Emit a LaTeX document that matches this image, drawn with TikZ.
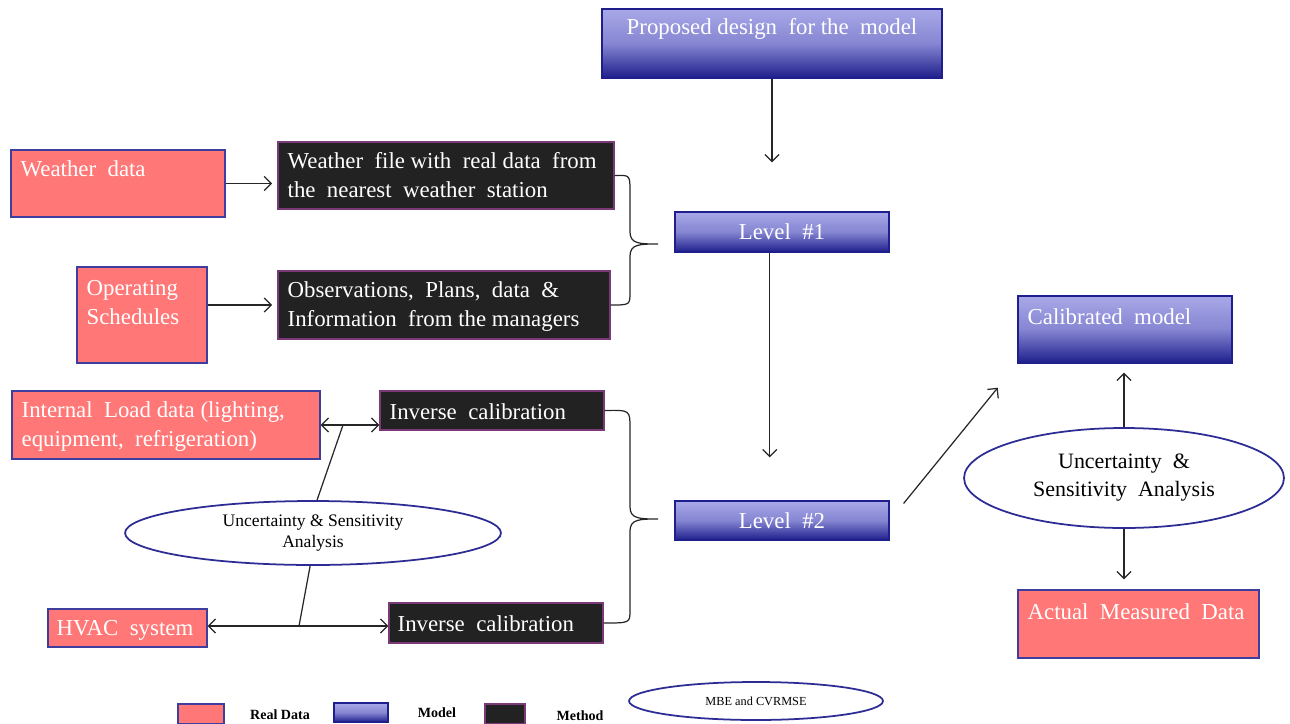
\documentclass[tikz,border=0pt]{standalone}
\usepackage{fontspec}
\setmainfont{Liberation Serif}
\usetikzlibrary{positioning}
\usetikzlibrary{fit}
\usetikzlibrary{calc}
\usetikzlibrary{shapes.geometric}
\usetikzlibrary{arrows.meta}
\definecolor{realred}{HTML}{FF7777}
\definecolor{realedge}{HTML}{3E3E9E}
\definecolor{modeltop}{HTML}{A8A8E8}
\definecolor{modelmid}{HTML}{8585D2}
\definecolor{modelbot}{HTML}{1E1E8C}
\definecolor{methodfill}{HTML}{222222}
\definecolor{methodedge}{HTML}{7A3A78}
\definecolor{ovaledge}{HTML}{2C2C94}
\tikzset{
    realbox/.style = {rectangle, draw=realedge, line width=0.8pt, fill=realred, inner sep=0pt},
    modelbox/.style = {rectangle, draw=modelbot, line width=0.8pt, top color=modeltop, bottom color=modelbot, middle color=modelmid, inner sep=0pt},
    methodbox/.style = {rectangle, draw=methodedge, line width=0.8pt, fill=methodfill, inner sep=0pt},
    oval/.style = {ellipse, draw=ovaledge, line width=1pt, fill=white, inner sep=0pt, align=center},
    txtw/.style = {text=white, inner sep=0pt, align=left, anchor=west, font=\fontsize{13}{16.5}\selectfont},
    legtxt/.style = {inner sep=0pt, font=\fontsize{8}{9}\selectfont\bfseries},
    edgen/.style = {-{Straight Barb[length=4pt,width=8pt]}, line width=0.7pt, draw=black!85},
    edged/.style = {{Straight Barb[length=4pt,width=8pt]}-{Straight Barb[length=4pt,width=8pt]}, line width=0.7pt, draw=black!85},
    edgel/.style = {line width=0.7pt, draw=black!85},
}
\begin{document}
\begin{tikzpicture}[x=0.02cm, y=-0.02cm]
\useasboundingbox (0,0) rectangle (1290,723);

% model column
\node[modelbox, fit={(602,9) (942,78)}] (pd) {};
\node[txtw, anchor=center] (pd-t) at ($(pd.north)+(0,21)$) {Proposed design\ \ for the\ \ model};
\node[modelbox, fit={(675,212) (889,252)}] (l1) {};
\node[txtw, anchor=center] (l1-t) at (l1) {Level\ \ \#1};
\node[modelbox, fit={(675,501) (889,540)}] (l2) {};
\node[txtw, anchor=center] (l2-t) at (l2) {Level\ \ \#2};

% inputs
\node[realbox, fit={(11,150) (225,217)}] (wd) {};
\node[txtw] (wd-t) at ($(wd.north west)+(10,19)$) {Weather\ \ data};
\node[methodbox, fit={(278,142) (614,209)}] (wf) {};
\node[txtw] (wf-t) at ($(wf.north west)+(10,34)$) {Weather\ \ file\ with\ \ real\ data\ \ from\\the\ \ nearest\ \ weather\ \ station};

\node[realbox, fit={(77,267) (207,363)}] (os) {};
\node[txtw] (os-t) at ($(os.north west)+(10,36)$) {Operating\\Schedules};
\node[methodbox, fit={(278,271) (610,339)}] (ob) {};
\node[txtw] (ob-t) at ($(ob.north west)+(10,36)$) {Observations,\ \ Plans,\ \ data\ \ \&\\Information\ \ from the managers};

\node[realbox, fit={(12,391) (320,459)}] (il) {};
\node[txtw] (il-t) at ($(il.north west)+(10,36)$) {Internal\ \ Load data (lighting,\\equipment,\ \ refrigeration)};
\node[methodbox, fit={(380,391) (604,430)}] (ic1) {};
\node[txtw] (ic1-t) at ($(ic1.west)+(10,1)$) {Inverse\ \ calibration};

\node[realbox, fit={(48,609) (207,647)}] (hv) {};
\node[txtw] (hv-t) at ($(hv.west)+(9,2)$) {HVAC\ \ system};
\node[methodbox, fit={(389,603) (603,643)}] (ic2) {};
\node[txtw] (ic2-t) at ($(ic2.west)+(9,1)$) {Inverse\ \ calibration};

\node[oval, minimum width=7.52cm, minimum height=1.28cm, font=\fontsize{10}{11.5}\selectfont] (us1) at (313,533) {Uncertainty \& Sensitivity\\Analysis};

% output side
\node[modelbox, fit={(1018,296) (1232,363)}] (cm) {};
\node[txtw] (cm-t) at ($(cm.north west)+(10,21)$) {Calibrated\ \ model};
\node[oval, minimum width=6.4cm, minimum height=2cm, font=\fontsize{12.5}{16}\selectfont] (us2) at (1124,478) {Uncertainty\ \ \&\\Sensitivity\ \ Analysis};
\node[realbox, fit={(1018,590) (1259,658)}] (amd) {};
\node[txtw] (amd-t) at ($(amd.north west)+(10,22)$) {Actual\ \ Measured\ \ Data};

% brace tips and junctions
\coordinate (b1) at (658,244);
\coordinate (b2) at (658,519);
\coordinate (j1) at (343,425);
\coordinate (j2) at (299,626);

% connectors
\draw[edgen, shorten >=0.98cm] (pd.south) -- (pd.south |- l1.north);
\draw[edgen, shorten >=3pt] (wd.east) -- (wd.east -| wf.west);
\draw[edgen, shorten >=3pt] (os.east |- ob.west) -- (ob.west);
\draw[edgen, shorten >=0.86cm] ([xshift=-7]l1.south) -- ([xshift=-7]l2.north);
\draw[edgen, shorten <=0.44cm, shorten >=0.62cm] (l2.east) -- (cm.south west);
\draw[edgen, shorten >=0.18cm] (us2.north) -- (us2.north |- cm.south);
\draw[edgen, shorten >=0.2cm] (us2.south) -- (us2.south |- amd.north);

\draw[edged] (il.east) -- (il.east -| ic1.west);
\draw[edged] (hv.east |- j2) -- (ic2.west |- j2);
\draw[edgel] (j1) -- (us1.83);
\draw[edgel] (us1.265) -- (j2);

% braces
\draw[edgel] (wf.east) .. controls (630,175) .. (630,192) -- (630,232)
  .. controls (630,244) and (640,244) .. (b1)
  .. controls (640,244) and (630,244) .. (630,256) -- (630,292)
  .. controls (630,305) .. (ob.east);
\draw[edgel] (ic1.east) .. controls (630,410) .. (630,428) -- (630,507)
  .. controls (630,519) and (640,519) .. (b2)
  .. controls (640,519) and (630,519) .. (630,531) -- (630,610)
  .. controls (630,623) .. (ic2.east);

% legend
\node[realbox, fit={(178,704) (224,724)}] (lg1) {};
\node[legtxt] (lg1-t) at (280,715) {Real Data};
\node[modelbox, fit={(334,703) (388,722)}] (lg2) {};
\node[legtxt] (lg2-t) at (437,713) {Model};
\node[methodbox, fit={(485,704) (525,724)}] (lg3) {};
\node[legtxt] (lg3-t) at (580,716) {Method};
\node[oval, minimum width=5.08cm, minimum height=0.76cm, font=\fontsize{7}{8}\selectfont] (lg4) at (756,701) {MBE and CVRMSE};
\end{tikzpicture}
\end{document}
